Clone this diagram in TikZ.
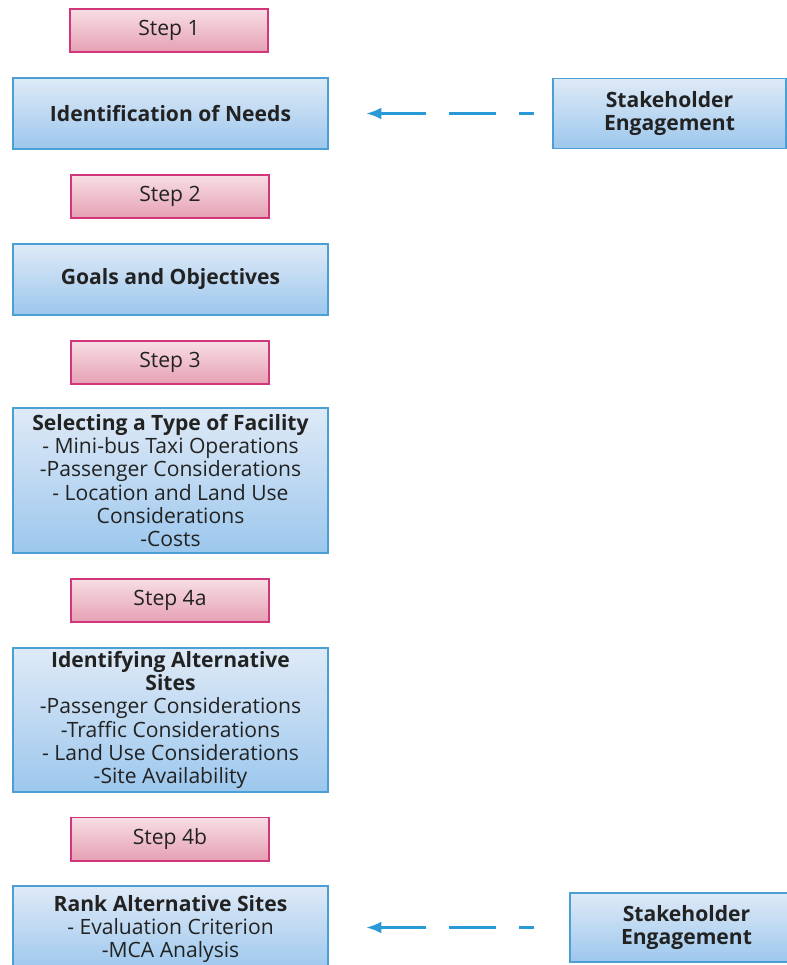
\documentclass[tikz,border=0pt]{standalone}
\usepackage{fontspec}
\setmainfont{Open Sans}
\usetikzlibrary{arrows.meta}

\definecolor{stepline}{HTML}{D2367A}
\definecolor{steptop}{HTML}{F7DEE5}
\definecolor{stepbottom}{HTML}{E6A0B4}
\definecolor{boxline}{HTML}{4A9FD5}
\definecolor{boxtop}{HTML}{DFEAF7}
\definecolor{boxbottom}{HTML}{9CC7ED}
\definecolor{arrowblue}{HTML}{2A9AD6}
\definecolor{inkgray}{HTML}{222222}

\begin{document}
\begin{tikzpicture}[x=0.025cm, y=-0.025cm, align=center,
    font=\fontsize{15}{16.5}\selectfont, text=inkgray,
    stepbox/.style={draw=stepline, line width=1.4pt, top color=steptop, bottom color=stepbottom,
      minimum width=4.95cm, minimum height=1.075cm, inner sep=0pt},
    taskbox/.style={draw=boxline, line width=1.4pt, top color=boxtop, bottom color=boxbottom,
      minimum width=7.875cm, inner sep=0pt},
    stakebox/.style={taskbox, minimum width=5.825cm, minimum height=1.75cm, font=\fontsize{15}{16.5}\selectfont\bfseries},
    stakearrow/.style={draw=arrowblue, line width=2pt, -{Latex[length=11pt, width=8.5pt]},
      dash pattern=on 33.4pt off 16.4pt, dash phase=22.8pt, shorten >=26.3pt}]

  \useasboundingbox (0, 0) rectangle (787, 965);

  \node (step-1) at (169, 30.5) [stepbox] {Step 1};

  \node (needs) at (170.5, 113.5) [taskbox, minimum height=1.775cm] {\textbf{Identification of Needs}};

  \node (stakeholder-1) at (669.5, 113.5) [stakebox] {Stakeholder\\Engagement};

  \node (step-2) at (170, 196.5) [stepbox] {Step 2};

  \node (goals) at (170.5, 279.5) [taskbox, minimum height=1.775cm] {\textbf{Goals and Objectives}};

  \node (step-3) at (170, 362.5) [stepbox] {Step 3};

  \node (facility) at (170.5, 480.5) [taskbox, minimum height=3.625cm] {\textbf{Selecting a Type of Facility}\\- Mini-bus Taxi Operations\\-Passenger Considerations\\- Location and Land Use\\Considerations\\-Costs};

  \node (step-4a) at (170, 600.5) [stepbox] {Step 4a};

  \node (sites) at (170.5, 720) [taskbox, minimum height=3.6cm] {\textbf{Identifying Alternative}\\\textbf{Sites}\\-Passenger Considerations\\-Traffic Considerations\\- Land Use Considerations\\-Site Availability};

  \node (step-4b) at (170, 839) [stepbox] {Step 4b};

  \node (rank) at (170.5, 929) [taskbox, minimum height=2.15cm] {\textbf{Rank Alternative Sites}\\- Evaluation Criterion\\-MCA Analysis};

  \node (stakeholder-2) at (686.5, 927.5) [stakebox, minimum height=1.725cm] {Stakeholder\\Engagement};

  \path[stakearrow, shorten <=12.8pt] (stakeholder-1.west) -- (needs.east);

  \path[stakearrow, shorten <=24.9pt] (stakeholder-2.west) -- (rank.east |- stakeholder-2.west);

\end{tikzpicture}
\end{document}
